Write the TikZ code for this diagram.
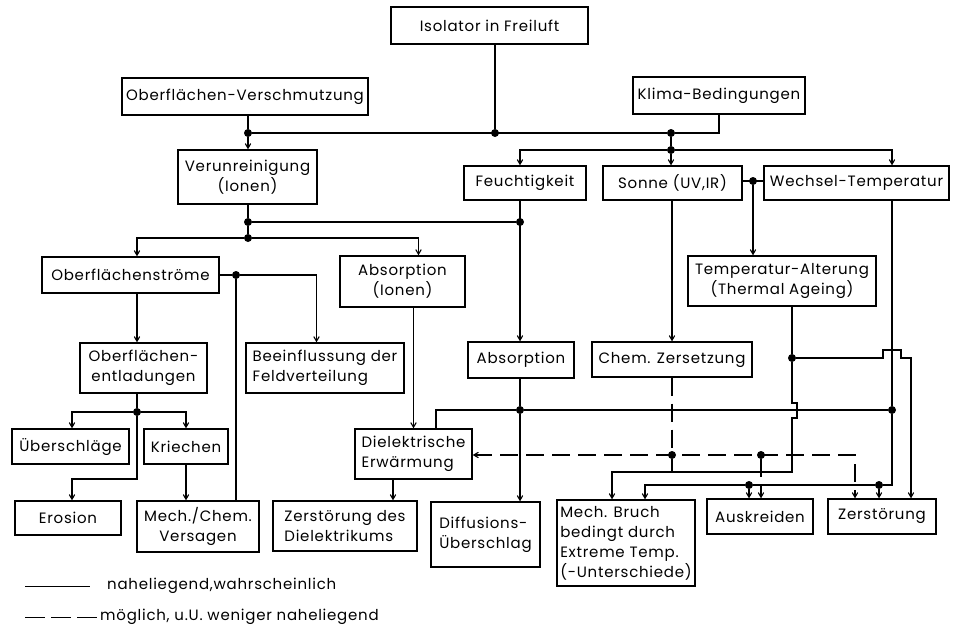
\documentclass[tikz,border=0pt]{standalone}
\usepackage{fontspec}
\setmainfont{Poppins}[LetterSpace=5]
\usetikzlibrary{arrows}

\tikzset{
	box/.style={draw, line width=1.3pt, inner sep=2pt, align=center,
		font=\fontsize{15}{20}\selectfont},
	jdot/.style={circle, fill, inner sep=0pt, minimum size=8pt},
	lnk/.style={line width=1.1pt},
	may/.style={lnk, dash pattern=on 18pt off 8pt},
	lbl/.style={font=\fontsize{15}{20}\selectfont, inner sep=0pt},
}

\begin{document}
\begin{tikzpicture}[x=1pt,y=-1pt,>=angle 60]
	\useasboundingbox (0,0) rectangle (958,634);
	% boxes
	\node[box, minimum width=197pt, minimum height=37pt] (isol) at (489.5,25.5) {Isolator in Freiluft};
	\node[box, minimum width=246pt, minimum height=37pt] (verschm) at (245,96.5) {Oberflächen-Verschmutzung};
	\node[box, minimum width=172pt, minimum height=37pt] (klima) at (719,95.5) {Klima-Bedingungen};
	\node[box, minimum width=139pt, minimum height=54pt] (verunr) at (247.5,177) {Verunreinigung\\(Ionen)};
	\node[box, minimum width=122pt, minimum height=34pt] (feucht) at (525,183) {Feuchtigkeit};
	\node[box, minimum width=139pt, minimum height=34pt] (sonne) at (672.5,183) {Sonne (UV,IR)};
	\node[box, minimum width=185pt, minimum height=34pt] (wechsel) at (856.5,183) {Wechsel-Temperatur};
	\node[box, minimum width=188pt, minimum height=50pt] (talter) at (782,281) {Temperatur-Alterung\\(Thermal Ageing)};
	\node[box, minimum width=177pt, minimum height=36pt] (ostrom) at (130.5,275) {Oberflächenströme};
	\node[box, minimum width=125pt, minimum height=51pt] (absion) at (402.5,281.5) {Absorption\\(Ionen)};
	\node[box, minimum width=127pt, minimum height=50pt] (oentl) at (143.5,368) {Oberflächen-\\entladungen};
	\node[box, minimum width=158pt, minimum height=50pt, align=left] (beein) at (325,368) {Beeinflussung der\\Feldverteilung};
	\node[box, minimum width=106pt, minimum height=36pt] (absorp) at (521,360) {Absorption};
	\node[box, minimum width=160pt, minimum height=35pt] (chem) at (672,359.5) {Chem. Zersetzung};
	\node[box, minimum width=117pt, minimum height=35pt] (ueber) at (70.5,446.5) {Überschläge};
	\node[box, minimum width=84pt, minimum height=35pt] (kriech) at (186,446.5) {Kriechen};
	\node[box, minimum width=117pt, minimum height=50pt, align=left] (diel) at (413.5,454) {Dielektrische\\Erwärmung};
	\node[box, minimum width=106pt, minimum height=34pt] (erosion) at (68,518) {Erosion};
	\node[box, minimum width=122pt, minimum height=51pt] (mcv) at (198,526.5) {Mech./Chem.\\Versagen};
	\node[box, minimum width=144pt, minimum height=50pt, align=left] (zdiel) at (345,526) {Zerstörung des\\Dielektrikums};
	\node[box, minimum width=109pt, minimum height=65pt, align=left] (diff) at (485.5,534.5) {Diffusions-\\Überschlag};
	\node[box, minimum width=138pt, minimum height=86pt, align=left] (mbruch) at (626,543) {Mech. Bruch\\bedingt durch\\Extreme Temp.\\(-Unterschiede)};
	\node[box, minimum width=106pt, minimum height=35pt] (ausk) at (760,516.5) {Auskreiden};
	\node[box, minimum width=108pt, minimum height=35pt] (zerst) at (882,516.5) {Zerstörung};
	%
	% junctions
	\node[jdot] (dA) at (248,133) {};
	\node[jdot] (dB) at (495,133) {};
	\node[jdot] (dC) at (671,133) {};
	\node[jdot] (dD) at (671,150) {};
	\node[jdot] (dE) at (753,181) {};
	\node[jdot] (dF) at (248,222) {};
	\node[jdot] (dG) at (248,238) {};
	\node[jdot] (dH) at (520,222) {};
	\node[jdot] (dI) at (236,275) {};
	\node[jdot] (dJ) at (137,412) {};
	\node[jdot] (dK) at (520,410) {};
	\node[jdot] (dL) at (892,410) {};
	\node[jdot] (dM) at (792,358) {};
	\node[jdot] (dN) at (672,455) {};
	\node[jdot] (dO) at (761,455) {};
	\node[jdot] (dP) at (749,485) {};
	\node[jdot] (dQ) at (879,485) {};
	\coordinate (e1) at (72,479);
	\coordinate (c1) at (792,472);
	%
	\draw[lnk] (isol.south -| dB) -- (dB);
	\draw[lnk] (verschm.south -| dA) -- (dA);
	\draw[lnk] (dA) -- (dC) -| (klima.south);
	\draw[lnk,->] (dA) -- (verunr.north -| dA);
	\draw[lnk] (dC) -- (dD);
	\draw[lnk,->] (dD) -| (feucht.north -| dH);
	\draw[lnk,->] (dD) -- (sonne.north -| dD);
	\draw[lnk,->] (dD) -| (wechsel.north -| dL);
	\draw[lnk] (sonne.east |- dE) -- (wechsel.west |- dE);
	\draw[lnk,->] (dE) -- (talter.north -| dE);
	%
	\draw[lnk] (verunr.south -| dF) -- (dF) -- (dG);
	\draw[lnk] (dF) -- (dH);
	\draw[lnk,->] (dG) -| (ostrom.north -| dJ);
	\draw[lnk,->] (dG) -| ([xshift=16pt]absion.north);
	\draw[lnk,->] (feucht.south -| dH) -- (absorp.north -| dH);
	\draw[lnk,->] (sonne.south -| dN) -- (chem.north -| dN);
	%
	\draw[lnk] (ostrom.east |- dI) -- (dI);
	\draw[lnk,->] (dI) -| ([xshift=-8.5pt]beein.north);
	\draw[lnk] (dI) -- (mcv.north -| dI);
	\draw[lnk,->] (ostrom.south -| dJ) -- (oentl.north -| dJ);
	\draw[lnk] (oentl.south -| dJ) -- (dJ);
	\draw[lnk,->] (dJ) -| (ueber.north -| e1);
	\draw[lnk,->] (dJ) |- (e1) -- (erosion.north -| e1);
	\draw[lnk,->] (dJ) -| (kriech.north);
	\draw[lnk,->] (kriech.south) -- (mcv.north -| kriech.south);
	%
	\draw[lnk,->] (absion.south -| diel.north) -- (diel.north);
	\draw[lnk,->] ([xshift=-20.5pt]diel.south) -- ([xshift=-20.5pt]diel.south |- zdiel.north);
	\draw[lnk] (absorp.south -| dK) -- (dK);
	\draw[lnk,->] (dK) -- (diff.north -| dK);
	\draw[lnk] ([xshift=22.5pt]diel.north) |- (dK) -- (dL);
	%
	\draw[lnk] (wechsel.south -| dL) -- (dL);
	\draw[lnk,->] (dL) |- (dQ) -- (dP) -| ([xshift=19pt]mbruch.north);
	\draw[lnk,->] (dP) -- (ausk.north -| dP);
	\draw[lnk,->] (dQ) -- (zerst.north -| dQ);
	%
	\draw[lnk] (talter.south -| dM) -- (dM);
	\draw[lnk,->] (dM) -- ([xshift=-9pt]dM -| dL) -- ++(0,-8) -- ++(18,0) -- ++(0,8) -| ([xshift=29pt]zerst.north);
	\draw[lnk,->] (dM) -- ([yshift=7pt]dM |- dK) -- ++(5,0) -- ++(0,15) -- ++(-5,0) -- (c1) -| ([xshift=-14pt]mbruch.north);
	\draw[lnk] (dN) -- (dN |- c1);
	%
	\draw[may] (chem.south -| dN) -- (dN);
	\draw[may,<->] (diel.east |- dN) -| ([xshift=-27pt]zerst.north);
	\draw[may,->] (dO) -- (ausk.north -| dO);
	%
	% legend
	\node[lbl, anchor=west] (leg1) at (107,586) {naheliegend,wahrscheinlich};
	\node[lbl, anchor=west] (leg2) at (100,617) {möglich, u.U. weniger naheliegend};
	\coordinate (l1) at (25,586);
	\coordinate (l2) at (25,617);
	\draw[lnk, line width=0.8pt] (l1) -- ([xshift=-17pt]leg1.west);
	\draw[lnk, line width=0.8pt, dash pattern=on 20pt off 6pt] (l2) -- ([xshift=-3pt]leg2.west);
\end{tikzpicture}
\end{document}
